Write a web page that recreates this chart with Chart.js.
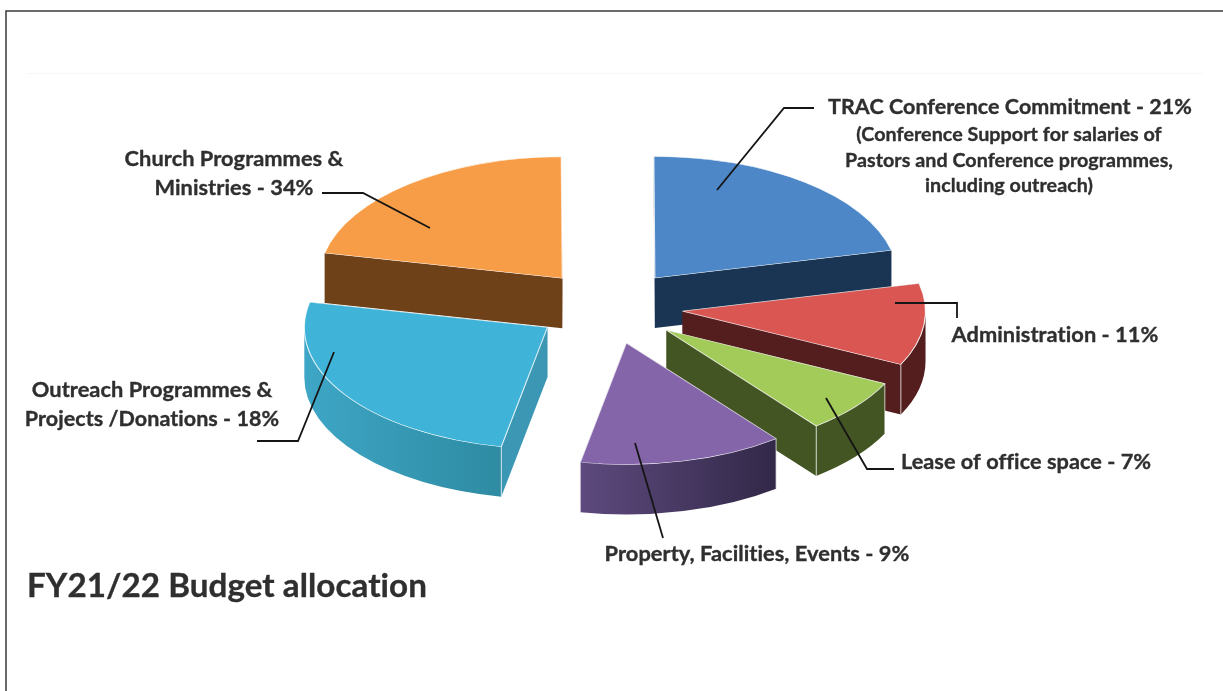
<!DOCTYPE html>
<html>
<head>
<meta charset="utf-8">
<title>FY21/22 Budget allocation</title>
<script src="https://cdn.jsdelivr.net/npm/chart.js@4/dist/chart.umd.js"></script>
<style>
  html, body { margin: 0; background: #fff; }
  canvas { display: block; }
</style>
</head>
<body>
<canvas id="chart" width="1223" height="691"></canvas>
<script>
// slices as they are drawn, clockwise from the back-left one
const categories = ['Church Programmes & Ministries', 'TRAC Conference Commitment', 'Administration',
  'Lease of office space', 'Property, Facilities, Events', 'Outreach Programmes & Projects /Donations'];
// share of the circle each slice takes in the picture (the printed % differ for some)
const drawnShares = [21.6, 21.4, 10.9, 7.2, 13.6, 25.3];

const topColors = ['#F89D47', '#4D87C7', '#D95652', '#A3CB5A', '#8565AA', '#40B4D8'];
const cutColors = ['#6F4119', '#193553', '#551E1E', '#445524', '#3C3058', '#3B97B4'];
const rimStart = ['#6F4119', '#193553', '#551E1E', '#445524', '#5E4A7E', '#3EA6C6'];
const rimEnd = ['#6F4119', '#193553', '#551E1E', '#445524', '#322848', '#2E8BA2'];

const labelLines = [
  ['Church Programmes &', 234, 166, 21.8], ['Ministries - 34%', 234, 195, 21.8],
  ['TRAC Conference Commitment - 21%', 1010, 114, 21.5],
  ['(Conference Support for salaries of', 1009, 141, 19.7],
  ['Pastors and Conference programmes,', 1009, 167, 19.7],
  ['including outreach)', 1009, 192, 19.7],
  ['Administration - 11%', 1055, 342, 21.8],
  ['Lease of office space - 7%', 1026, 469, 21.7],
  ['Property, Facilities, Events - 9%', 757, 561, 21.8],
  ['Outreach Programmes &', 152, 397, 21.8], ['Projects /Donations - 18%', 152, 426, 21.5],
];
const leaderLines = [
  [[322, 193], [363, 193], [430, 228]],
  [[814, 108], [784, 108], [717, 190]],
  [[895, 303], [957, 303], [957, 318]],
  [[826, 398], [867, 469], [894, 469]],
  [[635, 443], [663, 538]],
  [[334, 352], [298, 441], [257, 441]],
];

const SQUASH = 0.5;     // ellipse height / width
const EXPLODE = 74;     // pull-out of every slice, before squashing
const DEPTH = 50;       // height of the walls
const FONT = 'Lato, "Open Sans", sans-serif';

function drawSlice(ctx, arc, i) {
  const mid = (arc.startAngle + arc.endAngle) / 2;
  const cx = arc.x + Math.cos(mid) * EXPLODE;
  const cy = arc.y + Math.sin(mid) * EXPLODE * SQUASH;
  const r = arc.outerRadius;
  const at = a => [cx + r * Math.cos(a), cy + r * SQUASH * Math.sin(a)];

  // cut faces first, whichever faces backwards ends up under the rim and top
  ctx.fillStyle = cutColors[i];
  [arc.startAngle, arc.endAngle].forEach(a => {
    const [x, y] = at(a);
    ctx.beginPath();
    ctx.moveTo(cx, cy);
    ctx.lineTo(x, y);
    ctx.lineTo(x, y + DEPTH);
    ctx.lineTo(cx, cy + DEPTH);
    ctx.closePath();
    ctx.fill();
  });

  // rim only where it faces the viewer
  const a0 = Math.max(arc.startAngle, 0);
  const a1 = Math.min(arc.endAngle, Math.PI);
  if (a1 > a0) {
    const [xa] = at(a0);
    const [xb, yb] = at(a1);
    const grad = ctx.createLinearGradient(Math.min(xa, xb), 0, Math.max(xa, xb), 0);
    grad.addColorStop(0, rimStart[i]);
    grad.addColorStop(1, rimEnd[i]);
    ctx.fillStyle = grad;
    ctx.beginPath();
    ctx.ellipse(cx, cy, r, r * SQUASH, 0, a0, a1);
    ctx.lineTo(xb, yb + DEPTH);
    ctx.ellipse(cx, cy + DEPTH, r, r * SQUASH, 0, a1, a0, true);
    ctx.closePath();
    ctx.fill();
  }

  // light line down the front corners
  ctx.strokeStyle = 'rgba(255,255,255,0.7)';
  ctx.lineWidth = 1;
  [arc.startAngle, arc.endAngle].forEach(a => {
    if (a <= 0 || a >= Math.PI) return;
    const [x, y] = at(a);
    ctx.beginPath();
    ctx.moveTo(x, y);
    ctx.lineTo(x, y + DEPTH);
    ctx.stroke();
  });

  // top of the slice is the library's own arc, squashed and pulled out
  ctx.save();
  ctx.translate(arc.x, arc.y);
  ctx.scale(1, SQUASH);
  ctx.translate(-arc.x, -arc.y);
  ctx.translate(Math.cos(mid) * EXPLODE, Math.sin(mid) * EXPLODE);
  arc.draw(ctx);
  ctx.restore();
}

const pie3d = {
  id: 'pie3d',
  beforeDraw(chart) {
    const { ctx, width, height } = chart;
    ctx.save();
    ctx.fillStyle = '#fff';
    ctx.fillRect(0, 0, width, height);
    ctx.strokeStyle = '#F4F8F8';
    ctx.lineWidth = 1;
    ctx.beginPath();
    ctx.moveTo(26, 73.5);
    ctx.lineTo(1204, 73.5);
    ctx.stroke();
    ctx.strokeStyle = '#3a3a3a';
    ctx.lineWidth = 1.5;
    ctx.beginPath();
    ctx.moveTo(6, height);
    ctx.lineTo(6, 11);
    ctx.lineTo(width, 11);
    ctx.stroke();
    ctx.restore();
  },
  beforeDatasetDraw(chart, args) {
    args.meta.data.forEach((arc, i) => drawSlice(chart.ctx, arc, i));
    return false;
  },
  afterDraw(chart) {
    const { ctx } = chart;
    ctx.save();
    ctx.strokeStyle = '#151515';
    ctx.lineWidth = 1.8;
    leaderLines.forEach(pts => {
      ctx.beginPath();
      pts.forEach(([x, y], k) => (k ? ctx.lineTo(x, y) : ctx.moveTo(x, y)));
      ctx.stroke();
    });
    // letterSpacing also stops Lato joining "ti" into a ligature
    ctx.letterSpacing = '0.05px';
    ctx.fillStyle = '#2f2f2f';
    ctx.strokeStyle = '#2f2f2f';
    ctx.lineWidth = 0.35;
    ctx.textAlign = 'center';
    labelLines.forEach(([text, x, y, size]) => {
      ctx.font = `bold ${size}px ${FONT}`;
      ctx.fillText(text, x, y);
      ctx.strokeText(text, x, y);
    });
    ctx.textAlign = 'left';
    ctx.font = `bold 33.2px ${FONT}`;
    ctx.fillText('FY21/22 Budget allocation', 27, 597);
    ctx.strokeText('FY21/22 Budget allocation', 27, 597);
    ctx.restore();
  },
};

new Chart(document.getElementById('chart'), {
  type: 'pie',
  data: {
    labels: categories,
    datasets: [{
      data: drawnShares,
      backgroundColor: topColors,
      borderColor: 'rgba(255,255,255,0.8)',
      borderWidth: 1.2,
    }],
  },
  options: {
    responsive: false,
    animation: false,
    radius: 243,
    rotation: -78,
    layout: { padding: { right: 5, bottom: 77 } },
    plugins: {
      legend: { display: false },
      tooltip: { enabled: false },
    },
  },
  plugins: [pie3d],
});
</script>
</body>
</html>
